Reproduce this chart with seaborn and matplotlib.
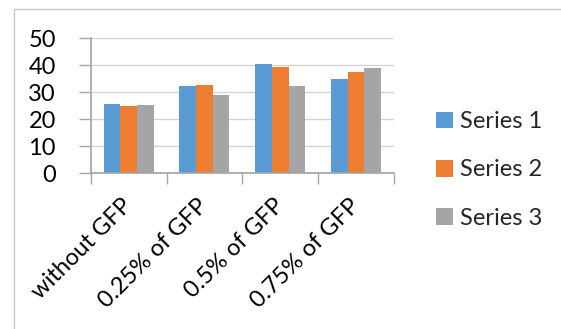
import matplotlib
matplotlib.use("Agg")
import matplotlib.pyplot as plt
import matplotlib.transforms as mtransforms
import seaborn as sns
import pandas as pd
from matplotlib.patches import Rectangle

categories = ["without GFP", "0.25% of GFP", "0.5% of GFP", "0.75% of GFP"]
series_names = ["Series 1", "Series 2", "Series 3"]
series_1 = [25.8, 32.4, 40.5, 34.9]
series_2 = [25.0, 32.8, 39.5, 37.6]
series_3 = [25.4, 29.1, 32.3, 38.9]
y_ticks = [0, 10, 20, 30, 40, 50]

colors = ["#5B9BD5", "#ED7D31", "#A5A5A5"]

df = pd.DataFrame({
    "category": categories * 3,
    "series": [s for s in series_names for _ in categories],
    "value": series_1 + series_2 + series_3,
})

sns.set_theme(style="white")
plt.rcParams["font.family"] = ["Lato", "DejaVu Sans"]

W, H = 561, 329
fig = plt.figure(figsize=(W / 100, H / 100), dpi=100)
ax = fig.add_axes([90.7 / W, 1 - 173.3 / H, (394 - 90.7) / W, 135 / H])

sns.barplot(data=df, x="category", y="value", hue="series",
            palette=colors, width=0.66, linewidth=0, saturation=1,
            ax=ax, legend=True)

# outer chart frame
fig.patches.append(Rectangle((14 / W, -0.2), 1.2, 0.2 + 1 - 9 / H,
                             transform=fig.transFigure, fill=False,
                             edgecolor="#c8c8c8", linewidth=1.0))

axis_color = "#a6a6a6"
ax.set_xlim(-0.5, 3.5)
ax.set_ylim(0, 50)
ax.set_yticks(y_ticks)
ax.yaxis.grid(True, color="#d4d4d4", linewidth=1.0)
ax.set_axisbelow(True)
for side in ["top", "right"]:
    ax.spines[side].set_visible(False)
ax.spines["left"].set_color(axis_color)
ax.spines["bottom"].set_color(axis_color)
ax.set_xlabel("")
ax.set_ylabel("")

ax.set_xticks(range(len(categories)))
ax.set_xticklabels(categories, rotation=45, ha="right", va="center",
                   rotation_mode="anchor")
shift = mtransforms.ScaledTranslation(3 / 100, 0, fig.dpi_scale_trans)
for lbl in ax.get_xticklabels():
    lbl.set_transform(lbl.get_transform() + shift)
ax.set_xticks([i - 0.5 for i in range(len(categories) + 1)], minor=True)
ax.tick_params(axis="x", which="major", length=0, pad=21, labelsize=17, colors="black")
ax.tick_params(axis="x", which="minor", length=8, width=1, color=axis_color, direction="out")
ax.tick_params(axis="y", which="major", length=9, width=1, color=axis_color,
               direction="out", pad=16, labelsize=17, labelcolor="black")
ax.tick_params(bottom=True, left=True, which="both")

handles, labels = ax.get_legend_handles_labels()
ax.get_legend().remove()
fig.legend(handles, labels, loc="center left", bbox_to_anchor=(427 / W, 1 - 170 / H),
           frameon=False, fontsize=17, handlelength=0.7, handleheight=0.7,
           handletextpad=0.3, labelspacing=1.16, borderaxespad=0)

fig.savefig("out.png", dpi=100, facecolor="white")
